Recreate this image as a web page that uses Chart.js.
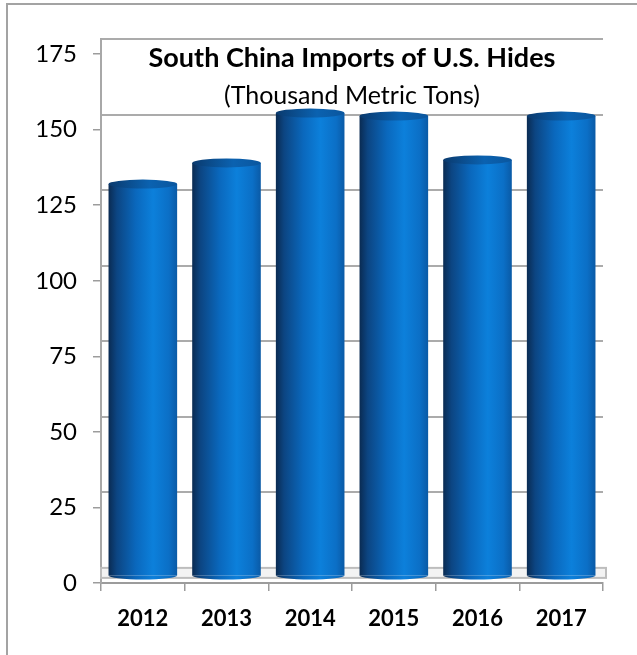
<!DOCTYPE html>
<html lang="en">
    <head>
        <meta charset="UTF-8">
        <title>South China Imports of U.S. Hides</title>
        <script src="https://cdn.jsdelivr.net/npm/chart.js"></script>
        <style>
            html, body { margin: 0; padding: 0; background: #fff; }
            .wrap { position: relative; width: 637px; height: 655px; overflow: hidden; }
            .frame { position: absolute; left: 6px; top: 3px; width: 640px; height: 660px;
                     border-top: 2px solid #a3a3a3; border-left: 2px solid #a3a3a3; }
            #hidesChart { position: absolute; left: 0; top: 0; }
        </style>
    </head>
<body>
    <div class="wrap">
        <div class="frame"></div>
        <canvas id="hidesChart" width="637" height="655"></canvas>
    </div>

    <script>
        // Veriler
        const years = ['2012', '2013', '2014', '2015', '2016', '2017'];
        const importsThousandTons = [129.5, 136.5, 153, 152, 137.5, 152];
        const valueTicks = [0, 25, 50, 75, 100, 125, 150, 175];
        const chartTitle = 'South China Imports of U.S. Hides';
        const chartSubtitle = '(Thousand Metric Tons)';

        const BAR_PCT = 0.82;
        const setTicks = axis => { axis.ticks = valueTicks.map(v => ({ value: v })); };

        // silindir gövdesi için yatay gradyan
        function sideGradient(ctx, x0, x1) {
            const g = ctx.createLinearGradient(x0, 0, x1, 0);
            g.addColorStop(0, '#0a2b52');
            g.addColorStop(0.12, '#0c4582');
            g.addColorStop(0.4, '#0a68bd');
            g.addColorStop(0.65, '#0c80db');
            g.addColorStop(0.88, '#0b6fc6');
            g.addColorStop(1, '#0a5aa6');
            return g;
        }

        // her sütun kendi gradyanını alır
        function barColor(context) {
            const chart = context.chart;
            const xScale = chart.scales.x;
            if (!chart.chartArea || !xScale) return '#0a6cc2';
            const cx = xScale.getPixelForValue(context.dataIndex);
            const half = xScale.width / years.length * BAR_PCT / 2;
            return sideGradient(chart.ctx, cx - half, cx + half);
        }

        const cylinderPlugin = {
            id: 'cylinder',
            beforeDatasetsDraw(chart) {
                const ctx = chart.ctx;
                const area = chart.chartArea;
                const floorTop = chart.scales.yBack.getPixelForValue(0);
                // zemin
                ctx.save();
                ctx.fillStyle = '#f3f3f3';
                ctx.strokeStyle = '#bdbdbd';
                ctx.lineWidth = 2;
                ctx.fillRect(area.left, floorTop, area.right - area.left + 3, 10);
                ctx.strokeRect(area.left, floorTop, area.right - area.left + 3, 10);
                ctx.restore();
            },
            afterDatasetsDraw(chart) {
                const ctx = chart.ctx;
                chart.getDatasetMeta(0).data.forEach(bar => {
                    const half = bar.width / 2;
                    ctx.save();
                    // alt kapak
                    ctx.beginPath();
                    ctx.ellipse(bar.x, bar.base, half, 4, 0, 0, Math.PI);
                    ctx.fillStyle = sideGradient(ctx, bar.x - half, bar.x + half);
                    ctx.fill();
                    // üst kapak
                    const top = ctx.createLinearGradient(bar.x - half, 0, bar.x + half, 0);
                    top.addColorStop(0, '#0a3a6e');
                    top.addColorStop(0.6, '#0b62b0');
                    top.addColorStop(1, '#0a569e');
                    ctx.beginPath();
                    ctx.ellipse(bar.x, bar.y, half, 4.5, 0, 0, Math.PI * 2);
                    ctx.fillStyle = top;
                    ctx.fill();
                    ctx.restore();
                });
            },
            afterDraw(chart) {
                const ctx = chart.ctx;
                const area = chart.chartArea;
                const cx = (area.left + area.right) / 2;
                ctx.save();
                ctx.fillStyle = '#000';
                ctx.textAlign = 'center';
                ctx.textBaseline = 'alphabetic';
                ctx.font = 'bold 27px Lato';
                ctx.fillText(chartTitle, cx, 67);
                ctx.font = '25px Lato';
                ctx.fillText(chartSubtitle, cx, 104);
                ctx.restore();
            }
        };

        new Chart(document.getElementById('hidesChart'), {
            type: 'bar',
            data: {
                labels: years,
                datasets: [{
                    label: 'Imports (thousand metric tons)',
                    data: importsThousandTons,
                    backgroundColor: barColor,
                    borderWidth: 0,
                    barPercentage: BAR_PCT,
                    categoryPercentage: 1,
                    yAxisID: 'yMid'
                }]
            },
            options: {
                responsive: false,
                animation: false,
                layout: { padding: { top: 39, left: 0, right: 0, bottom: 0 } },
                plugins: {
                    legend: { display: false },
                    tooltip: { enabled: false }
                },
                scales: {
                    x: {
                        afterFit: axis => { axis.height = 72; },
                        grid: { drawOnChartArea: false, tickLength: 8, color: '#9c9c9c', lineWidth: 1.5 },
                        border: { display: true, color: '#9c9c9c', width: 2 },
                        ticks: { color: '#000', padding: 15, font: { family: 'Lato', size: 22, weight: 'bold' } }
                    },
                    y: {
                        position: 'left',
                        min: 0,
                        max: 180,
                        afterBuildTicks: setTicks,
                        afterFit: axis => { axis.width = 101; },
                        grid: { drawOnChartArea: false, tickLength: 8, color: '#9c9c9c', lineWidth: 1.5 },
                        border: { display: true, color: '#a8a8a8', width: 2 },
                        ticks: { color: '#000', padding: 16, font: { family: 'Lato', size: 24 } }
                    },
                    yBack: {
                        position: 'right',
                        min: -5,
                        max: 175,
                        afterBuildTicks: setTicks,
                        afterFit: axis => { axis.width = 34; },
                        grid: { drawTicks: false, color: '#ababab', lineWidth: 2 },
                        border: { display: false },
                        ticks: { display: false }
                    },
                    yMid: {
                        display: false,
                        min: -2.5,
                        max: 177.5
                    }
                }
            },
            plugins: [cylinderPlugin]
        });
    </script>
</body>
</html>
